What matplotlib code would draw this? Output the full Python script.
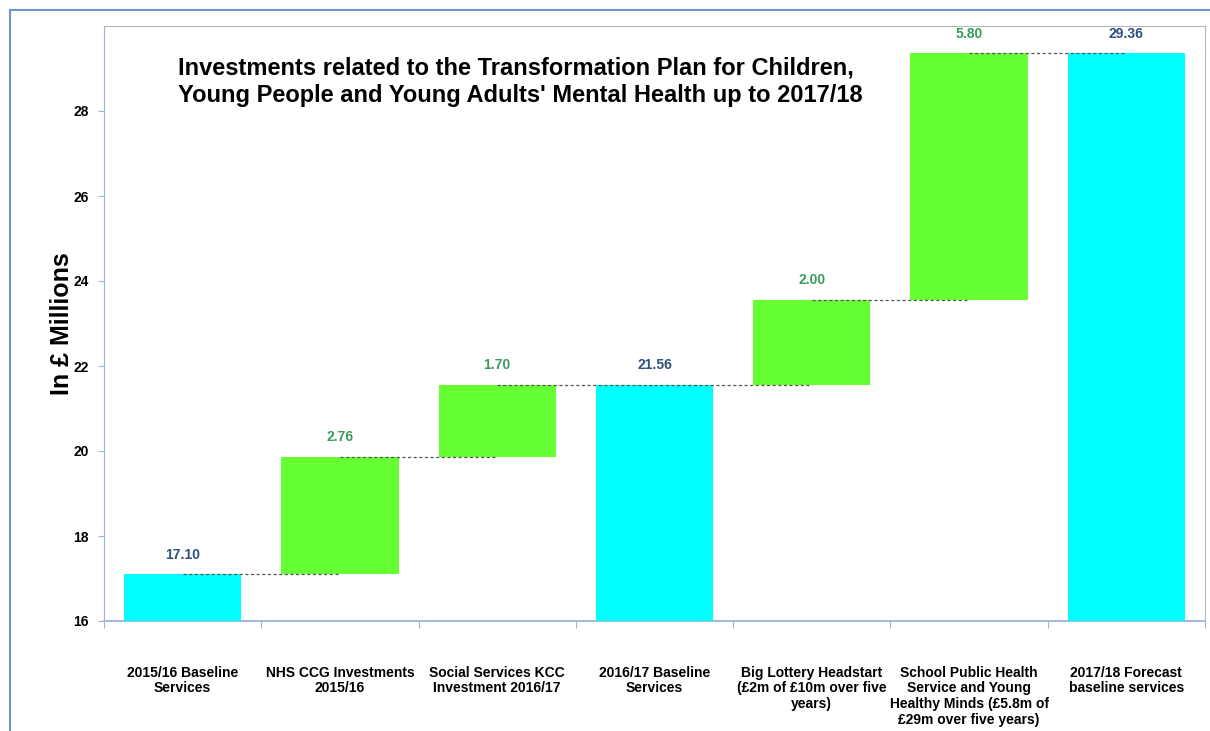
import matplotlib

matplotlib.use("Agg")
import matplotlib.pyplot as plt
from matplotlib.patches import Rectangle
import numpy as np

plt.rcParams["font.family"] = ["Liberation Sans", "DejaVu Sans"]

CATEGORIES = ["2015/16 Baseline\nServices",
              "NHS CCG Investments\n2015/16",
              "Social Services KCC\nInvestment 2016/17",
              "2016/17 Baseline\nServices",
              "Big Lottery Headstart\n(£2m of £10m over five\nyears)",
              "School Public Health\nService and Young\nHealthy Minds (£5.8m of\n£29m over five years)",
              "2017/18 Forecast\nbaseline services"]
STEPS = [17.10, 2.76, 1.70, None, 2.00, 5.80, None]   # None = running total bar
IS_TOTAL = [True, False, False, True, False, False, True]

TOTAL_COLOR = "#00FFFF"
STEP_COLOR = "#66FF33"
TOTAL_TEXT = "#2F4F7F"
STEP_TEXT = "#3A9A5C"
Y_MIN, Y_MAX = 16, 30

fig = plt.figure(figsize=(12.1, 7.31), dpi=100)
ax = fig.add_axes([104 / 1210, 1 - 621 / 731, 1101 / 1210, 595 / 731])

# outer chart border
fig.patches.append(Rectangle((10 / 1210, -0.05), 1.1, 1 - 10 / 731 + 0.05, transform=fig.transFigure,
                             fill=False, edgecolor="#6F94C8", linewidth=1.5))

x = np.arange(len(CATEGORIES))
running = 0.0
bottoms, tops = [], []
for i, step in enumerate(STEPS):
    if IS_TOTAL[i]:
        if step is not None:
            running = step
        bottoms.append(Y_MIN)
        tops.append(running)
    else:
        bottoms.append(running)
        running += step
        tops.append(running)

heights = [t - b for t, b in zip(tops, bottoms)]
colors = [TOTAL_COLOR if t else STEP_COLOR for t in IS_TOTAL]
ax.bar(x, heights, bottom=bottoms, width=0.745, color=colors, zorder=3)

# dashed connectors, centre to centre
for i in range(len(x) - 1):
    ax.plot([x[i], x[i + 1]], [tops[i], tops[i]], color="#555555", linestyle=(0, (2.5, 2)),
            linewidth=0.9, zorder=4)

for i in range(len(x)):
    val = tops[i] if IS_TOTAL[i] else STEPS[i]
    ax.annotate(f"{val:.2f}", (x[i], tops[i]), textcoords="offset points", xytext=(0, 9),
                ha="center", va="bottom", fontsize=10, fontweight="bold",
                color=TOTAL_TEXT if IS_TOTAL[i] else STEP_TEXT)

ax.set_xlim(-0.5, len(x) - 0.5)
ax.set_ylim(Y_MIN, Y_MAX)
ax.set_yticks(range(16, 29, 2))
ax.set_yticklabels([str(v) for v in range(16, 29, 2)], fontsize=10, fontweight="bold")
ax.set_xticks(np.arange(len(x) + 1) - 0.5)
ax.set_xticklabels([])
ax.tick_params(axis="x", length=5, color="#9DB3D8", direction="out")
ax.tick_params(axis="y", length=4, color="#9DB3D8", pad=7)

for i, lab in enumerate(CATEGORIES):
    ax.text(x[i], -0.075, lab, transform=ax.get_xaxis_transform(), ha="center", va="top",
            fontsize=10, fontweight="bold", linespacing=1.15)

ax.set_ylabel("In £ Millions", fontsize=18, fontweight="bold", va="center")
ax.yaxis.set_label_coords(-0.038, 0.5)

for side in ["top", "right"]:
    ax.spines[side].set_color("#B5B5B5")
ax.spines["left"].set_color("#9DB3D8")
ax.spines["bottom"].set_color("#9DB3D8")
ax.spines["bottom"].set_linewidth(1.3)

ax.text(178 / 1210, 1 - 56 / 731,
        "Investments related to the Transformation Plan for Children,\n"
        "Young People and Young Adults' Mental Health up to 2017/18",
        transform=fig.transFigure, ha="left", va="top", fontsize=17, fontweight="bold",
        linespacing=1.3)

fig.savefig("out.png", dpi=100)
